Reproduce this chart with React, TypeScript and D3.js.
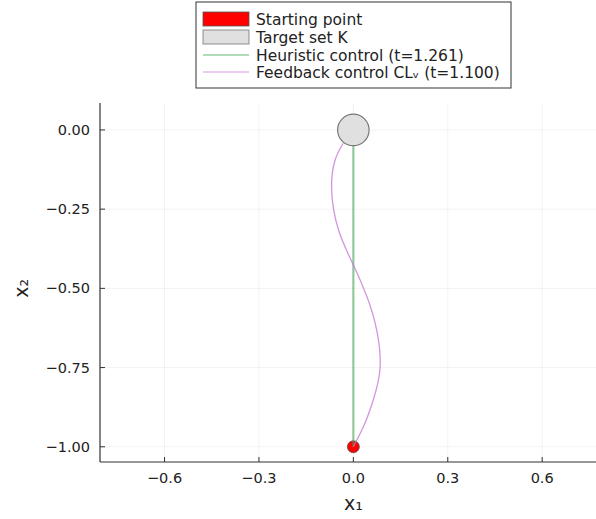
import React from "react";
import * as d3 from "d3";

const xTicks = [-0.6, -0.3, 0.0, 0.3, 0.6];
const yTicks = [0.0, -0.25, -0.5, -0.75, -1.0];
const start: [number, number] = [0, -1];
const target = { cx: 0, cy: 0, r: 0.05 };
const heuristic: [number, number][] = [
  [0, -1],
  [0, -0.05],
];
const feedback: [number, number][] = [
  [0, -1],
  [0.035, -0.93],
  [0.064, -0.85],
  [0.085, -0.75],
  [0.074, -0.631],
  [0.043, -0.526],
  [0, -0.426],
  [-0.047, -0.316],
  [-0.069, -0.19],
  [-0.058, -0.095],
  [-0.032, -0.042],
];
const legendLabels = [
  "Starting point",
  "Target set K",
  "Heuristic control (t=1.261)",
  "Feedback control CLᵥ (t=1.100)",
];

const W = 596;
const H = 519;
const L = 100, R = 596, T = 103, B = 462;

export default function App() {
  const x = d3.scaleLinear().domain([-0.805, 0.771]).range([L, R]);
  const y = d3.scaleLinear().domain([-1.048, 0.085]).range([B, T]);
  const line = d3
    .line<[number, number]>()
    .x((d) => x(d[0]))
    .y((d) => y(d[1]))
    .curve(d3.curveNatural);
  const straight = d3
    .line<[number, number]>()
    .x((d) => x(d[0]))
    .y((d) => y(d[1]));
  const font = "DejaVu Sans, sans-serif";
  const rowY = [19, 37, 55, 72];
  return (
    <svg
      width={W}
      height={H}
      style={{ position: "absolute", left: 0, top: 0 }}
      fontFamily={font}
    >
      <rect x={0} y={0} width={W} height={H} fill="white" />
      {xTicks.map((t) => (
        <line key={"gx" + t} x1={x(t)} x2={x(t)} y1={T} y2={B} stroke="#000" strokeOpacity={0.1} strokeWidth={0.5} />
      ))}
      {yTicks.map((t) => (
        <line key={"gy" + t} x1={L} x2={R} y1={y(t)} y2={y(t)} stroke="#000" strokeOpacity={0.1} strokeWidth={0.5} />
      ))}
      <line x1={L} x2={L} y1={T} y2={B} stroke="#333" strokeWidth={1.2} />
      <line x1={L} x2={R} y1={B} y2={B} stroke="#333" strokeWidth={1.2} />
      {xTicks.map((t) => (
        <g key={"tx" + t}>
          <line x1={x(t)} x2={x(t)} y1={B} y2={B - 5} stroke="#333" strokeWidth={1} />
          <text x={x(t)} y={B + 21} textAnchor="middle" fontSize={14.5} fill="#222">
            {t === 0 ? "0.0" : (t < 0 ? "\u2212" : "") + Math.abs(t).toFixed(1)}
          </text>
        </g>
      ))}
      {yTicks.map((t) => (
        <g key={"ty" + t}>
          <line x1={L} x2={L + 5} y1={y(t)} y2={y(t)} stroke="#333" strokeWidth={1} />
          <text x={90} y={y(t) + 5} textAnchor="end" fontSize={14.5} fill="#222">
            {t === 0 ? "0.00" : (t < 0 ? "\u2212" : "") + Math.abs(t).toFixed(2)}
          </text>
        </g>
      ))}
      <text x={x(0)} y={510} textAnchor="middle" fontSize={19} fill="#222">x₁</text>
      <text transform={`translate(28,${y(-0.5)}) rotate(-90)`} textAnchor="middle" fontSize={19} fill="#222">x₂</text>
      <circle cx={x(start[0])} cy={y(start[1])} r={6} fill="#ff0000" stroke="#555" strokeWidth={0.8} />
      <circle
        cx={x(target.cx)}
        cy={y(target.cy)}
        r={x(target.r) - x(0)}
        fill="#e0e0e0"
        stroke="#777"
        strokeWidth={1.2}
      />
      <path d={straight(heuristic) || ""} fill="none" stroke="#3ea44e" strokeOpacity={0.55} strokeWidth={2.2} />
      <path d={line(feedback) || ""} fill="none" stroke="#c371d2" strokeOpacity={0.75} strokeWidth={1.3} />
      <rect x={196} y={2} width={315} height={86} fill="white" stroke="#333" strokeWidth={1} />
      <rect x={203} y={12} width={46} height={14} fill="#ff0000" stroke="#555" strokeWidth={0.8} />
      <rect x={203} y={30} width={46} height={14} fill="#e0e0e0" stroke="#777" strokeWidth={0.8} />
      <line x1={203} x2={249} y1={rowY[2]} y2={rowY[2]} stroke="#3ea44e" strokeOpacity={0.8} strokeWidth={1.2} />
      <line x1={203} x2={249} y1={rowY[3]} y2={rowY[3]} stroke="#c371d2" strokeOpacity={0.7} strokeWidth={1.2} />
      {legendLabels.map((s, i) => (
        <text key={s} x={256} y={rowY[i] + 5.5} fontSize={15.5} fill="#222">
          {s}
        </text>
      ))}
    </svg>
  );
}
